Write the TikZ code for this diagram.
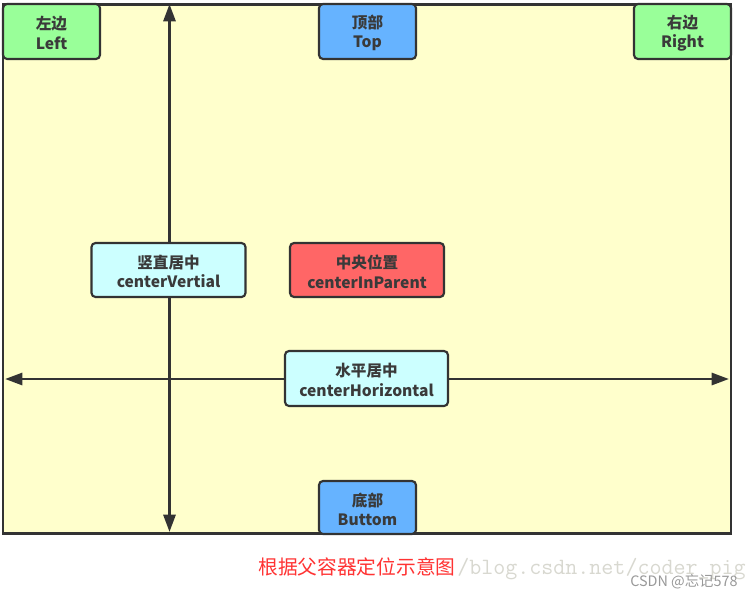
\documentclass[tikz,border=0pt]{standalone}
\usepackage{fontspec}
\setmainfont{Noto Sans CJK SC}
\usetikzlibrary{arrows.meta}
\definecolor{bgyellow}{HTML}{FFFFCC}
\definecolor{edge}{HTML}{333333}
\definecolor{greenbox}{HTML}{99FF99}
\definecolor{bluebox}{HTML}{66B3FF}
\definecolor{cyanbox}{HTML}{CCFFFF}
\definecolor{redbox}{HTML}{FF6666}
\definecolor{txt}{HTML}{3A3A3A}
\definecolor{captionred}{HTML}{FF3333}
\definecolor{wmgray}{HTML}{D8D8D0}
\definecolor{csdngray}{HTML}{999999}
\tikzset{
  pbox/.style={draw=edge, line width=1.6pt, rounded corners=3pt, inner sep=0pt},
  boxtext/.style={align=center, text=txt, inner sep=0pt, yshift=-1.2pt,
    font=\fontsize{11.7}{14.6}\selectfont\bfseries},
  axis/.style={draw=edge, line width=2.1pt, {Triangle[length=13pt,width=9pt]}-{Triangle[length=13pt,width=9pt]}}
}
\begin{document}
\begin{tikzpicture}[x=0.75pt,y=-0.75pt]
\useasboundingbox (0,0) rectangle (756,597);
\fill[white] (0,0) rectangle (756,597);
% container
\node[draw=edge, line width=1.6pt, fill=bgyellow, minimum width=728*0.75pt, minimum height=529*0.75pt, inner sep=0pt] (parent) at (367,269) {};
% axes
\coordinate (vt) at (169.5,4);
\coordinate (vb) at (169.5,532);
\coordinate (hl) at (5,379);
\coordinate (hr) at (729,379);
\draw[axis] (vb) -- (vt);
\draw[axis] (hl) -- (hr);
% boxes
\node[pbox, fill=greenbox, minimum width=97*0.75pt, minimum height=55*0.75pt,
  label={[boxtext]center:{左边\\Left}}] (left) at (51.5,31.5) {};
\node[pbox, fill=bluebox, minimum width=97*0.75pt, minimum height=55*0.75pt,
  label={[boxtext]center:{顶部\\Top}}] (top) at (367.5,31.5) {};
\node[pbox, fill=greenbox, minimum width=97*0.75pt, minimum height=55*0.75pt,
  label={[boxtext]center:{右边\\Right}}] (right) at (682.5,31.5) {};
\node[pbox, fill=bluebox, minimum width=97*0.75pt, minimum height=53*0.75pt,
  label={[boxtext]center:{底部\\Buttom}}] (bottom) at (367.5,507.5) {};
\node[pbox, fill=cyanbox, minimum width=154*0.75pt, minimum height=54*0.75pt,
  label={[boxtext]center:{竖直居中\\centerVertial}}] (cv) at (168.5,270) {};
\node[pbox, fill=redbox, minimum width=154*0.75pt, minimum height=54*0.75pt,
  label={[boxtext]center:{中央位置\\centerInParent}}] (cip) at (367,270) {};
\node[pbox, fill=cyanbox, minimum width=163*0.75pt, minimum height=55*0.75pt,
  label={[boxtext]center:{水平居中\\centerHorizontal}}] (ch) at (366.5,378.5) {};
% watermark and caption
\node[anchor=base west, inner sep=0pt, text=wmgray, font=\ttfamily\fontsize{17.5}{17.5}\selectfont] (wm) at (457,574) {/blog.csdn.net/coder\_pig};
\node[anchor=base west, inner sep=0pt, text=captionred, font=\fontsize{14.8}{15}\selectfont] (caption) at (258,574) {根据父容器定位示意图};
\node[anchor=base west, inner sep=0pt, text=csdngray, font=\fontsize{10.8}{11}\selectfont] (csdn) at (630,586) {CSDN @忘记578};
\end{tikzpicture}
\end{document}
